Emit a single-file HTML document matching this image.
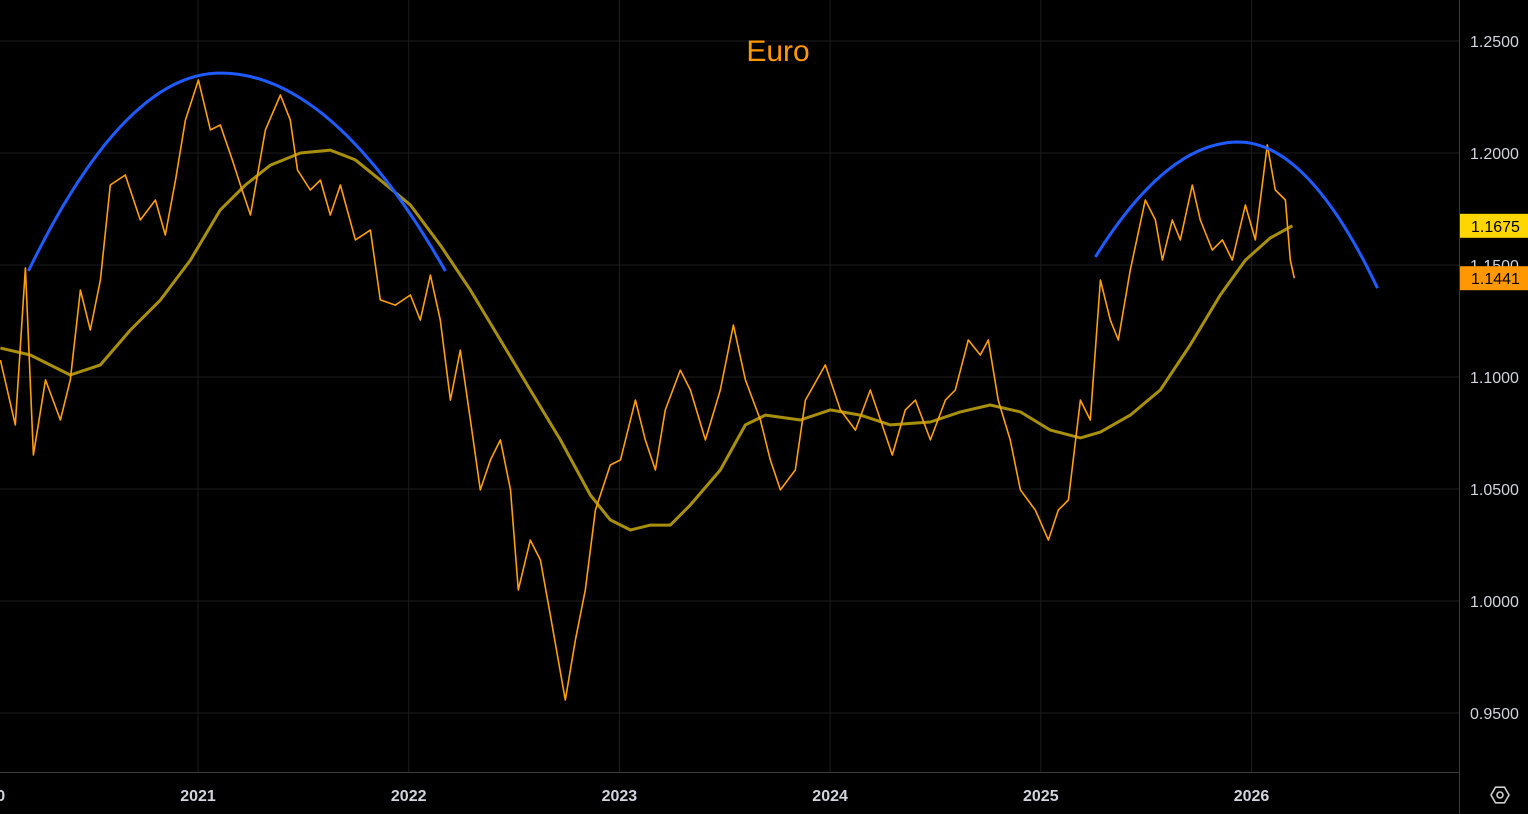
<!DOCTYPE html>
<html><head><meta charset="utf-8"><style>
html,body{margin:0;padding:0;background:#000;width:1528px;height:814px;overflow:hidden}
svg{display:block;font-family:"Liberation Sans",sans-serif}
</style></head><body>
<svg id="chart" width="1528" height="814">
<g id="grid"></g>
<g id="series"></g>
<g id="axes"></g>
<text x="778" y="61" fill="#ff9800" font-size="30" text-anchor="middle">Euro</text>
<g transform="translate(1500,795)">
<polygon points="9,0 4.5,7.8 -4.5,7.8 -9,0 -4.5,-7.8 4.5,-7.8" fill="none" stroke="#ccc" stroke-width="1.6"/>
<circle r="3" fill="none" stroke="#ccc" stroke-width="1.6"/>
</g>
</svg>
<script>
const yTicks=[1.25,1.20,1.15,1.10,1.05,1.00,0.95];
const yTickLabels=["1.2500","1.2000","1.1500","1.1000","1.0500","1.0000","0.9500"];
const xTicks=[2020,2021,2022,2023,2024,2025,2026];
const xTickLabels=["2020","2021","2022","2023","2024","2025","2026"];
const priceDates=[2020.062,2020.133,2020.181,2020.219,2020.276,2020.347,2020.394,2020.442,2020.489,2020.537,2020.584,2020.655,2020.726,2020.798,2020.845,2020.893,2020.940,2021.002,2021.059,2021.106,2021.163,2021.201,2021.249,2021.320,2021.391,2021.438,2021.472,2021.533,2021.581,2021.628,2021.676,2021.747,2021.818,2021.865,2021.937,2022.008,2022.055,2022.103,2022.150,2022.198,2022.245,2022.293,2022.340,2022.388,2022.435,2022.483,2022.520,2022.577,2022.625,2022.672,2022.743,2022.791,2022.838,2022.886,2022.957,2023.005,2023.076,2023.123,2023.171,2023.218,2023.289,2023.337,2023.408,2023.479,2023.541,2023.598,2023.669,2023.716,2023.764,2023.835,2023.883,2023.977,2024.049,2024.120,2024.191,2024.239,2024.295,2024.357,2024.405,2024.476,2024.547,2024.594,2024.656,2024.713,2024.751,2024.798,2024.855,2024.903,2024.974,2025.036,2025.083,2025.131,2025.188,2025.235,2025.283,2025.330,2025.368,2025.425,2025.496,2025.544,2025.577,2025.624,2025.662,2025.719,2025.757,2025.814,2025.862,2025.909,2025.971,2026.018,2026.075,2026.113,2026.161,2026.184,2026.203];
const priceValues=[1.1076,1.0786,1.1487,1.0652,1.0987,1.0808,1.0987,1.1388,1.121,1.1433,1.1857,1.1902,1.1701,1.179,1.1634,1.1879,1.2147,1.2326,1.2103,1.2125,1.1969,1.1857,1.1723,1.2103,1.2259,1.2147,1.1924,1.1835,1.1879,1.1723,1.1857,1.1612,1.1656,1.1344,1.1321,1.1366,1.1254,1.1455,1.1254,1.0897,1.112,1.0808,1.0496,1.063,1.0719,1.0496,1.0049,1.0272,1.0183,0.9938,0.9558,0.9826,1.0049,1.0406,1.0607,1.063,1.0897,1.0719,1.0585,1.0853,1.1031,1.0942,1.0719,1.0942,1.1232,1.0987,1.0808,1.063,1.0496,1.0585,1.0897,1.1054,1.0853,1.0763,1.0942,1.0808,1.0652,1.0853,1.0897,1.0719,1.0897,1.0942,1.1165,1.1098,1.1165,1.0897,1.0719,1.0496,1.0406,1.0272,1.0406,1.0451,1.0897,1.0808,1.1433,1.1254,1.1165,1.1478,1.179,1.1701,1.1522,1.1701,1.1612,1.1857,1.1701,1.1567,1.1612,1.1522,1.1768,1.1612,1.2036,1.1835,1.179,1.1522,1.1441];
const maDates=[2020.062,2020.204,2020.394,2020.537,2020.679,2020.822,2020.964,2021.106,2021.225,2021.344,2021.486,2021.628,2021.747,2021.865,2022.008,2022.150,2022.293,2022.435,2022.577,2022.720,2022.862,2022.957,2023.052,2023.147,2023.242,2023.337,2023.479,2023.598,2023.693,2023.859,2024.001,2024.144,2024.286,2024.476,2024.618,2024.760,2024.903,2025.045,2025.188,2025.283,2025.425,2025.567,2025.709,2025.852,2025.971,2026.089,2026.194];
const maValues=[1.1129,1.1098,1.1009,1.1054,1.121,1.1344,1.1522,1.1746,1.1857,1.1946,1.2,1.2013,1.1969,1.1879,1.1768,1.1589,1.1388,1.1165,1.0942,1.0719,1.0473,1.0362,1.0317,1.0339,1.0339,1.0429,1.0585,1.0786,1.083,1.0808,1.0853,1.083,1.0786,1.0799,1.0844,1.0875,1.0844,1.0763,1.0728,1.0754,1.083,1.0942,1.1143,1.1366,1.1522,1.1621,1.1675];
const arc1Dates=[2020.195,2021.106,2022.174];
const arc1Values=[1.1473,1.2357,1.1473];
const arc2Dates=[2025.259,2025.938,2026.598];
const arc2Values=[1.1536,1.2049,1.1397];
const lastPrice=1.1441, lastMA=1.1675;

const NS="http://www.w3.org/2000/svg";
const plotW=1459, plotH=772;
function X(d){return 198+(d-2021)*210.7;}
function Y(v){return 41+(1.25-v)*2240;}
function mk(tag,attrs,parent){const e=document.createElementNS(NS,tag);for(const k in attrs)e.setAttribute(k,attrs[k]);parent.appendChild(e);return e;}
const grid=document.getElementById('grid'),series=document.getElementById('series'),axes=document.getElementById('axes');

yTicks.forEach((v,i)=>{
 const l=mk('line',{x1:0,x2:plotW,y1:Y(v),y2:Y(v),stroke:'#1c1c1c','stroke-width':1},grid);
 
 
 const t=mk('text',{x:1470,y:Y(v)+6,fill:'#d1d4dc','font-size':16},axes);
 t.textContent=yTickLabels[i];
 
 
});
xTicks.forEach((d,i)=>{
 const l=mk('line',{x1:X(d),x2:X(d),y1:0,y2:plotH,stroke:'#1c1c1c','stroke-width':1},grid);
 
 
 const t=mk('text',{x:X(d),y:801,fill:'#d1d4dc','font-size':16,'font-weight':'bold','text-anchor':'middle'},axes);
 t.textContent=xTickLabels[i];
 
 
});
const a1=mk('line',{x1:plotW+0.5,x2:plotW+0.5,y1:0,y2:814,stroke:'#3a3a3a'},axes);


const a2=mk('line',{x1:0,x2:plotW,y1:plotH+0.5,y2:plotH+0.5,stroke:'#3a3a3a'},axes);



function pathFrom(ds,vs){return ds.map((d,i)=>(i?'L':'M')+X(d).toFixed(1)+','+Y(vs[i]).toFixed(1)).join('');}
const ma=mk('path',{d:pathFrom(maDates,maValues),fill:'none',stroke:'#a88f0c','stroke-width':3,'stroke-linejoin':'round'},series);


const pr=mk('path',{d:pathFrom(priceDates,priceValues),fill:'none',stroke:'#ff9f0a','stroke-width':1.6,'stroke-linejoin':'round'},series);



function arcPath(ds,vs){
 let s='';const n=60;
 for(let i=0;i<=n;i++){
  const d=ds[0]+(ds[2]-ds[0])*i/n;
  let v;
  if(d<=ds[1]){const r=(d-ds[1])/(ds[0]-ds[1]);v=vs[1]+(vs[0]-vs[1])*r*r;}
  else{const r=(d-ds[1])/(ds[2]-ds[1]);v=vs[1]+(vs[2]-vs[1])*r*r;}
  s+=(i?'L':'M')+X(d).toFixed(1)+','+Y(v).toFixed(1);
 }
 return s;
}
const c1=mk('path',{d:arcPath(arc1Dates,arc1Values),fill:'none',stroke:'#1f5cff','stroke-width':3},series);


const c2=mk('path',{d:arcPath(arc2Dates,arc2Values),fill:'none',stroke:'#1f5cff','stroke-width':3},series);



function tag(v,bg,name){
 const r=mk('rect',{x:1460,y:Y(v)-12,width:68,height:24,fill:bg},axes);
 
 
 const t=mk('text',{x:1471,y:Y(v)+6,fill:'#000','font-size':16},axes);
 t.textContent=v.toFixed(4);
 
 
}
tag(lastMA,'#ffd600','ma-last-value');
tag(lastPrice,'#ff9800','price-last-value');
</script>
</body></html>
